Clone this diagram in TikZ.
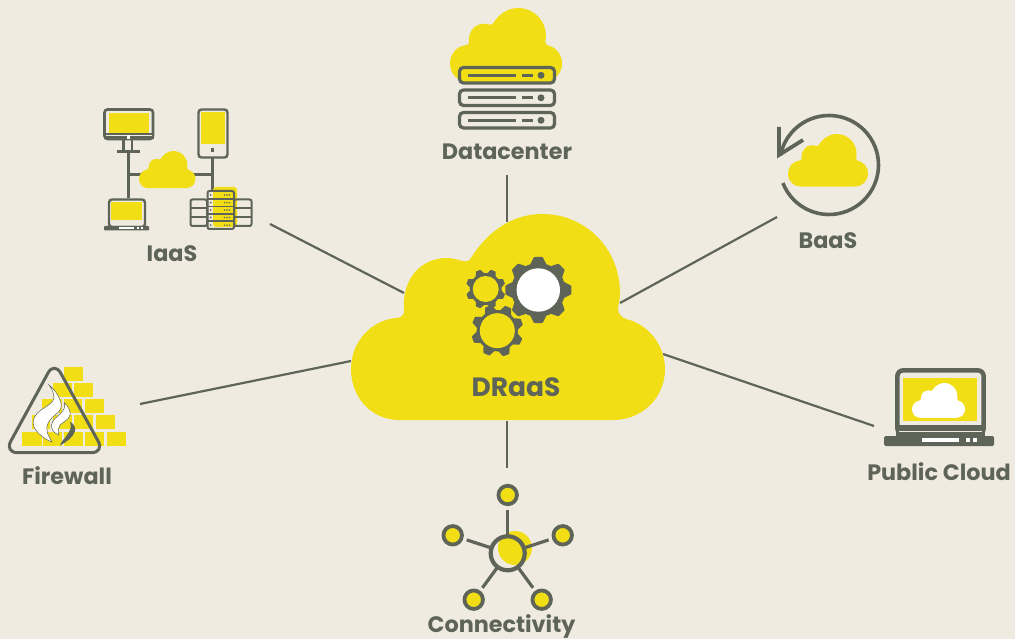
\documentclass[tikz,border=0pt]{standalone}
\usepackage{fontspec}
\setmainfont{Poppins}
\definecolor{bgc}{HTML}{EFEBE1}
\definecolor{yel}{HTML}{F1DE15}
\definecolor{gry}{HTML}{5E6558}
\tikzset{
  lbl/.style={font=\bfseries\fontsize{22.3}{24}\selectfont,text=gry,inner sep=0pt,anchor=base},
  spoke/.style={draw=gry,line width=2.2pt},
  ic/.style={draw=gry,line width=2.6pt,rounded corners=3pt},
  thin ic/.style={draw=gry,line width=2pt,rounded corners=2pt},
  net/.style={draw=gry,line width=3pt},
  hubline/.style={draw=gry,line width=3.2pt},
  leaf/.style={circle,draw=gry,line width=3.8pt,fill=yel,minimum size=18.5pt,inner sep=0pt,outer sep=5.5pt},
  hubn/.style={circle,draw=gry,line width=4.2pt,minimum size=34pt,inner sep=0pt,outer sep=1pt},
}
\newcommand{\mycloud}[4]{%
 \begin{scope}[shift={(#1,#2)},scale=#3,shift={(-351,-214)}]
  \fill[#4] (399,420)
   .. controls (372,420) and (351,398) .. (351,369)
   .. controls (351,341) and (372,320) .. (396,318)
   .. controls (402,318) and (405,314) .. (404,309)
   .. controls (402,280) and (420,258) .. (447,258)
   .. controls (453,258) and (458,260) .. (463,261)
   .. controls (467,262) and (469,261) .. (471,258)
   .. controls (487,232) and (512,214) .. (542,214)
   .. controls (587,214) and (620,250) .. (620,293)
   .. controls (620,298) and (619,303) .. (618,308)
   .. controls (618,314) and (621,317) .. (626,319)
   .. controls (648,324) and (665,345) .. (665,369)
   .. controls (665,398) and (642,420) .. (613,420)
   -- cycle;
 \end{scope}}
% cx cy holeR ringR tipR offset holecolour
\newcommand{\mygear}[7]{%
 \begin{scope}[shift={(#1,#2)}]
  \fill[gry] (0,0) circle[radius=#4];
  \foreach \a in {0,45,...,315}{
   \fill[gry,rotate=\a+#6] (#4-1.5,{-0.30*#4}) -- (#5-0.5,{-0.17*#4}) -- (#5,{-0.13*#4}) -- (#5,{0.13*#4}) -- (#5-0.5,{0.17*#4}) -- (#4-1.5,{0.30*#4}) -- cycle;
  }
  \fill[#7] (0,0) circle[radius=#3];
 \end{scope}}
% y of a datacenter server
\newcommand{\myserver}[3]{%
  \draw[ic,line width=3.2pt,rounded corners=4pt,fill=#2] (459.5,#1) rectangle (554.5,#1+15.5);
  \draw[gry,line width=2.8pt] (468,#1+7.8) -- (516,#1+7.8) (522,#1+7.8) -- (533,#1+7.8);
  \fill[gry] (541,#1+7.8) circle[radius=3.5];}
\begin{document}
\begin{tikzpicture}[x=1pt,y=-1pt]
\useasboundingbox (0,0) rectangle (1015,639);
\fill[bgc] (0,0) rectangle (1015,639);

% ---- connector end points
\coordinate (cdc) at (507,222);  \coordinate (dc) at (507,175);
\coordinate (ci) at (404,293);   \coordinate (ia) at (270,224);
\coordinate (cb) at (620,303);   \coordinate (ba) at (777,217);
\coordinate (cf) at (351,361);   \coordinate (fw) at (140,404);
\coordinate (cp) at (663,354);   \coordinate (pc) at (874,426);
\coordinate (cc) at (507,421);   \coordinate (cn) at (507,468);
\draw[spoke] (dc) -- (cdc);
\draw[spoke] (ia) -- (ci);
\draw[spoke] (ba) -- (cb);
\draw[spoke] (fw) -- (cf);
\draw[spoke] (pc) -- (cp);
\draw[spoke] (cn) -- (cc);

% ---- centre
\mycloud{351}{214}{1}{yel}
\mygear{538.3}{290}{21.7}{27}{33}{0}{white}
\mygear{485.7}{289}{13}{16}{19.8}{22.5}{yel}
\mygear{497.3}{330.7}{17.5}{20.7}{26}{20}{yel}
\node[lbl,font=\bfseries\fontsize{26.5}{28}\selectfont] (draas) at (516,396.5) {DRaaS};

% ---- datacenter
\mycloud{450}{8}{0.357}{yel}
\myserver{67.5}{yel}{}
\myserver{90}{bgc}{}
\myserver{112.5}{bgc}{}
\node[lbl] (ldc) at (507,160) {Datacenter};

% ---- IaaS
\draw[net] (128,152) -- (128,198);
\draw[net] (128,175) -- (212,175);
\draw[net] (212,158) -- (212,190);
\mycloud{139}{151}{0.18}{yel}
\draw[ic] (104.5,109.5) rectangle (153,139);
\fill[gry] (104,133) rectangle (153.5,139);
\fill[bgc] (106,134.7) rectangle (151.5,135.6);
\fill[yel] (109,113) rectangle (149,133);
\fill[white] (126.5,135.5) rectangle (129.5,139);
\draw[gry,line width=2.4pt] (123.5,139) -- (123.5,152) (132,139) -- (132,152);
\draw[gry,line width=3pt] (117,152) -- (140,152);
\draw[ic,line width=2.4pt] (198.5,109.5) rectangle (227.5,157.5);
\fill[yel] (201,112) rectangle (225,144);
\fill[gry] (210.5,148.5) rectangle (213.5,152.5);
\draw[ic,line width=2.4pt] (109,199.5) rectangle (145,227);
\fill[yel] (111,202) rectangle (142,220);
\fill[gry,rounded corners=0.8pt] (104,226) rectangle (149,230.5);
\fill[white] (119,227.2) rectangle (134,229);
\fill[white] (137,227.2) rectangle (139,229);
\fill[white] (140.5,227.2) rectangle (142.5,229);
\fill[yel,rounded corners=3pt] (213,187) rectangle (237,227);
\draw[thin ic] (190.5,199.5) rectangle (207,226);
\draw[gry,line width=2pt] (191,208) -- (207,208) (191,217) -- (207,217);
\draw[thin ic] (234,199.5) rectangle (251.5,226);
\draw[gry,line width=2pt] (234,208) -- (251,208) (234,217) -- (251,217);
\draw[thin ic] (207.5,191) rectangle (234,229);
\draw[gry,line width=1.8pt] (208,199) -- (234,199) (208,206.5) -- (234,206.5) (208,213.7) -- (234,213.7) (208,221.3) -- (234,221.3);
\foreach \yy in {195,202.7,210,217.5,225.2}{
 \fill[gry] (210.7,\yy) circle[radius=1];
 \fill[gry] (224.5,\yy) circle[radius=.8] (227,\yy) circle[radius=.8] (229.5,\yy) circle[radius=.8];
}
\node[lbl] (lia) at (172,261.5) {IaaS};

% ---- BaaS
\mycloud{788}{134}{0.255}{yel}
\draw[gry,line width=3.6pt] (829,165) ++(158.6:49.5) arc[start angle=158.6,end angle=-169,radius=49.5];
\draw[gry,line width=3.8pt,miter limit=8] (779,127) -- (779,155) -- (803,140);
\node[lbl] (lba) at (828,249) {BaaS};

% ---- Firewall
\foreach \xa/\xb/\ya in {64/83/367,
 53/72/383,74/93/383,
 42/62/399,64/82/399,85/104/399,
 32/50/415,53/72/415,74/93/415,96/115/415,
 22/42/432,43/62/432,64/83/432,85/104/432,107/126/432}{
 \fill[yel] (\xa,\ya) rectangle (\xb,\ya+14);
}
\draw[gry,line width=3pt,rounded corners=13pt,line join=round] (54.3,361.5) -- (104.5,452.7) -- (4.5,452.7) -- cycle;
\draw[gry,line width=.5pt,fill=white] (49,385)
  .. controls (54,389) and (58,394) .. (60,400)
  .. controls (63,406) and (61,411) .. (55,415)
  .. controls (49,420) and (46,425) .. (47,430)
  .. controls (47,434) and (50,438) .. (52,442)
  .. controls (44,439) and (37,433) .. (34,427)
  .. controls (31,421) and (35,414) .. (41,410)
  .. controls (47,406) and (53,403) .. (54,398)
  .. controls (54,393) and (52,389) .. (49,385) -- cycle;
\draw[gry,line width=.5pt,fill=white] (64.3,402.7)
  .. controls (68,406) and (71,411) .. (70,415)
  .. controls (69,420) and (63,422) .. (60,425)
  .. controls (58,428) and (58,431) .. (58.5,435)
  .. controls (54,433) and (51,429) .. (51.5,425)
  .. controls (52,420) and (57,417) .. (61,413)
  .. controls (64,410) and (65.5,407) .. (64.3,402.7) -- cycle;
\fill[gry] (70,421.7) .. controls (74,424) and (76,428) .. (75,431)
  .. controls (73,438) and (66,442) .. (60,445.5)
  .. controls (61,441) and (65,439) .. (67,435)
  .. controls (70,431) and (72,427) .. (70,421.7) -- cycle;
\node[lbl] (lfw) at (67,484) {Firewall};

% ---- Public cloud
\draw[gry,line width=4.5pt,rounded corners=6pt] (897.3,370.3) rectangle (983.7,434);
\fill[yel] (903,378) rectangle (977,421);
\fill[gry] (896,425) rectangle (985,436);
\fill[bgc] (899,431.3) rectangle (982,432.3);
\mycloud{912}{383}{0.169}{white}
\fill[gry,rounded corners=1.5pt] (884,436) rectangle (994,446);
\fill[white] (922,437.5) rectangle (959,442);
\fill[white] (966,437.5) rectangle (970,442);
\fill[white] (973,437.5) rectangle (977,442);
\node[lbl] (lpc) at (939,480) {Public Cloud};

% ---- Connectivity
\fill[yel] (515,548) circle[radius=17];
\node[hubn] (hub) at (507.7,553.3) {};
\node[leaf] (n1) at (507.7,495) {};
\node[leaf] (n2) at (452.7,535.3) {};
\node[leaf] (n3) at (562.7,535.3) {};
\node[leaf] (n4) at (473.7,599.7) {};
\node[leaf] (n5) at (541.7,599.7) {};
\foreach \nn in {n1,n2,n3,n4,n5}{\draw[hubline] (hub) -- (\nn);}
\node[lbl] (lcn) at (501.5,632.5) {Connectivity};
\end{tikzpicture}
\end{document}
